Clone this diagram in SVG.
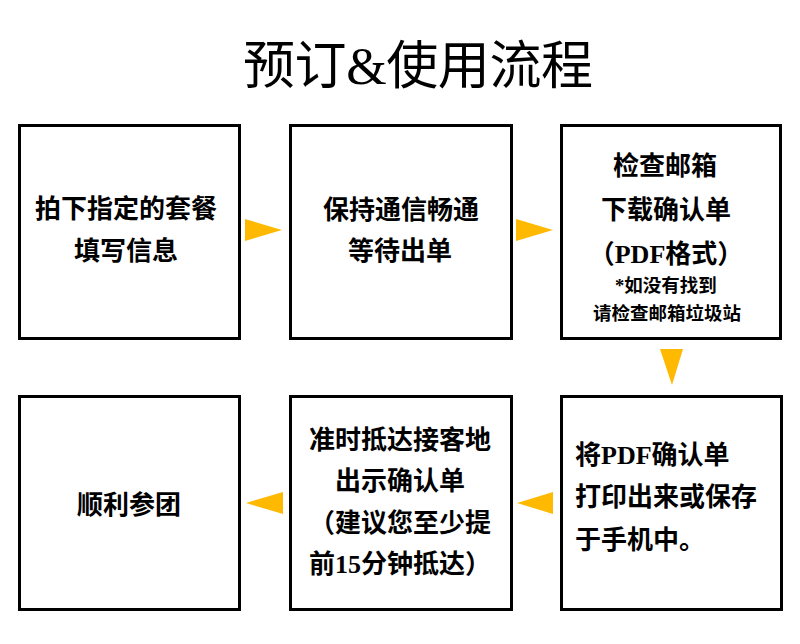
<svg xmlns="http://www.w3.org/2000/svg" width="800" height="644" viewBox="0 0 800 644">
  <style>
    .box { fill: #ffffff; stroke: #000000; stroke-width: 3; }
    .t { font-family: "Liberation Serif", "Noto Sans CJK SC", serif; font-size: 26px; font-weight: bold; fill: #000000; }
    .s { font-size: 18.5px; }
    .title { font-family: "Liberation Serif", "Noto Sans CJK SC", serif; font-size: 52px; font-weight: normal; fill: #000000; }
    .amp { font-family: "Liberation Serif", serif; }
    .arrow { fill: #FFB900; }
  </style>
  <rect x="0" y="0" width="800" height="644" fill="#ffffff"/>
  <text class="title" x="243" y="84" textLength="350" lengthAdjust="spacing">预订<tspan class="amp">&amp;</tspan>使用流程</text>

  <g id="connectors">
    <polygon class="arrow" points="245,219 245,241 282,230"/>
    <polygon class="arrow" points="516,219 516,241 553,230"/>
    <polygon class="arrow" points="660,349 683,349 672,385"/>
    <polygon class="arrow" points="553,492 553,514 517,503"/>
    <polygon class="arrow" points="283,492 283,514 246,503"/>
  </g>

  <g id="node1">
    <rect class="box" x="19.5" y="125.5" width="220" height="213"/>
    <text class="t" text-anchor="middle" x="126" y="218">拍下指定的套餐</text>
    <text class="t" text-anchor="middle" x="126" y="260">填写信息</text>
  </g>
  <g id="node2">
    <rect class="box" x="290.5" y="125.5" width="221" height="213"/>
    <text class="t" text-anchor="middle" x="401" y="219">保持通信畅通</text>
    <text class="t" text-anchor="middle" x="400" y="260">等待出单</text>
  </g>
  <g id="node3">
    <rect class="box" x="561.5" y="125.5" width="219" height="213"/>
    <text class="t" text-anchor="middle" x="665" y="175">检查邮箱</text>
    <text class="t" text-anchor="middle" x="666" y="219">下载确认单</text>
    <text class="t" text-anchor="middle" x="666" y="263">（PDF格式）</text>
    <text class="t s" text-anchor="middle" x="666" y="292">*如没有找到</text>
    <text class="t s" text-anchor="middle" x="667" y="320">请检查邮箱垃圾站</text>
  </g>
  <g id="node4">
    <rect class="box" x="561.5" y="396.5" width="220" height="213"/>
    <text class="t" x="575" y="464">将PDF确认单</text>
    <text class="t" x="575" y="506">打印出来或保存</text>
    <text class="t" x="575" y="549">于手机中。</text>
  </g>
  <g id="node5">
    <rect class="box" x="290.5" y="396.5" width="221" height="213"/>
    <text class="t" text-anchor="middle" x="400" y="449">准时抵达接客地</text>
    <text class="t" text-anchor="middle" x="400" y="490">出示确认单</text>
    <text class="t" text-anchor="middle" x="400" y="532">（建议您至少提</text>
    <text class="t" text-anchor="middle" x="400" y="573">前15分钟抵达）</text>
  </g>
  <g id="node6">
    <rect class="box" x="19.5" y="396.5" width="220" height="213"/>
    <text class="t" text-anchor="middle" x="129" y="514">顺利参团</text>
  </g>
</svg>
